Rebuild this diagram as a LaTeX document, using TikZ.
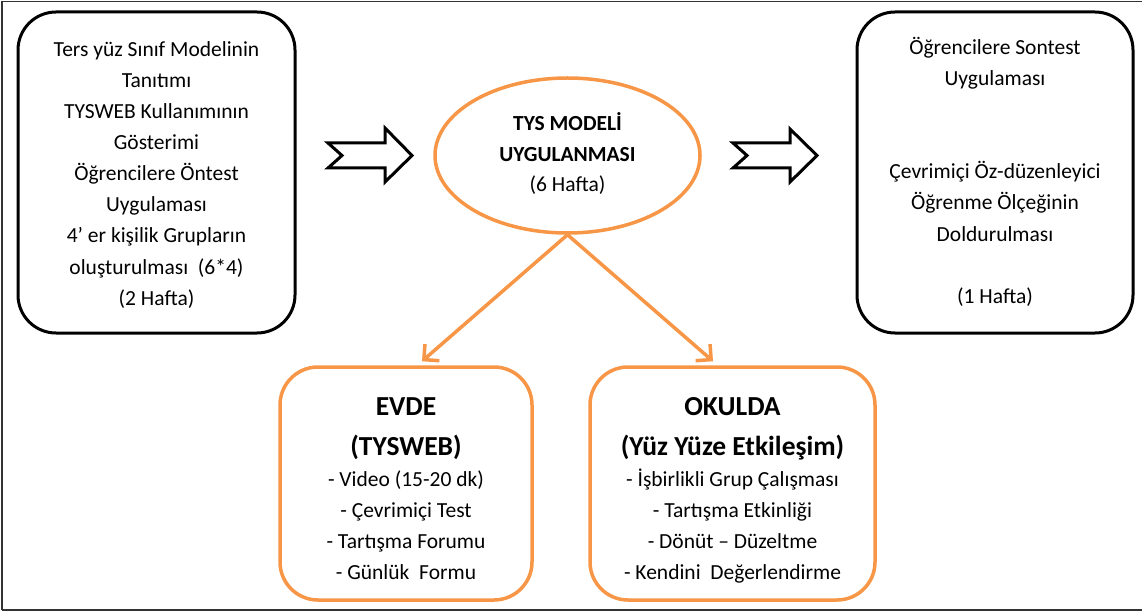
\documentclass[tikz,border=0pt]{standalone}
\usepackage{fontspec}
\setmainfont{Carlito}
\usetikzlibrary{shapes.geometric,arrows.meta}
\definecolor{accentorange}{HTML}{F79646}
\tikzset{
  stagebox/.style={draw=black, line width=3pt, rounded corners=38pt, inner sep=0pt},
  placebox/.style={draw=accentorange, line width=3.5pt, rounded corners=38pt, inner sep=0pt},
  modelell/.style={draw=accentorange, line width=3.5pt, ellipse, inner sep=0pt,
    minimum width=265pt, minimum height=155pt},
  txt/.style={anchor=base, inner sep=0pt, font=\fontsize{21.5}{26}\selectfont},
  txtb/.style={txt, font=\fontsize{21.5}{26}\selectfont\bfseries},
  head/.style={anchor=base, inner sep=0pt, font=\fontsize{27.5}{32}\selectfont\bfseries},
  flow/.style={draw=black, line width=3pt, line join=miter, fill=white},
  branch/.style={draw=accentorange, line width=3.5pt,
    -{Straight Barb[length=11pt, width=22pt, line width=3.5pt]}},
  frame/.style={draw=black!80, line width=1.5pt}
}
\begin{document}
\begin{tikzpicture}[x=1pt, y=-1pt]
\useasboundingbox (0,0) rectangle (1142,612);
% outer frame
\draw[frame] (2,610) -- (2,1.5) -- (1142,1.5);
\draw[frame] (2,610) -- (1142,610);

% preparation stage (left)
\node[stagebox, minimum width=277pt, minimum height=321pt] (prep) at (156.5,172.5) {};
\node[txt] (p1) at (156.5,57)  {Ters yüz Sınıf Modelinin};
\node[txt] (p2) at (156.5,88)  {Tanıtımı};
\node[txt] (p3) at (156.5,119) {TYSWEB Kullanımının};
\node[txt] (p4) at (156.5,150) {Gösterimi};
\node[txt] (p5) at (156.5,181) {Öğrencilere Öntest};
\node[txt] (p6) at (156.5,212) {Uygulaması};
\node[txt] (p7) at (156.5,243) {4’ er kişilik Grupların};
\node[txt] (p8) at (156.5,274) {oluşturulması\ \ (6*4)};
\node[txt] (p9) at (156.5,305) {(2 Hafta)};

% final stage (right)
\node[stagebox, minimum width=276pt, minimum height=321pt] (post) at (995,172.5) {};
\node[txt] (q1) at (995,55)  {Öğrencilere Sontest};
\node[txt] (q2) at (995,86)  {Uygulaması};
\node[txt] (q3) at (995,179) {Çevrimiçi Öz-düzenleyici};
\node[txt] (q4) at (995,210) {Öğrenme Ölçeğinin};
\node[txt] (q5) at (995,241) {Doldurulması};
\node[txt] (q6) at (995,303) {(1 Hafta)};

% model (centre)
\node[modelell] (model) at (567.5,155.5) {};
\node[txtb] (m1) at (567.5,131) {TYS MODELİ};
\node[txtb] (m2) at (567.5,162) {UYGULANMASI};
\node[txt]  (m3) at (567.5,192) {(6 Hafta)};

% block arrows between stages
\draw[flow] (328,143) -- (385,143) -- (385,128) -- (412,155.5) -- (385,182)
  -- (385,168) -- (328,168) -- (342,155.5) -- cycle;
\draw[flow] (733,143) -- (790,143) -- (790,129) -- (817,155.5) -- (790,182)
  -- (790,168) -- (733,168) -- (747,155.5) -- cycle;

% at home
\node[placebox, minimum width=252pt, minimum height=233pt] (home) at (406,483.5) {};
\node[head] (h1) at (406,415) {EVDE};
\node[head] (h2) at (406,455) {(TYSWEB)};
\node[txt]  (h3) at (406,486) {- Video (15-20 dk)};
\node[txt]  (h4) at (406,517) {- Çevrimiçi Test};
\node[txt]  (h5) at (406,548) {- Tartışma Forumu};
\node[txt]  (h6) at (406,579) {- Günlük\ \ Formu};

% at school
\node[placebox, minimum width=285pt, minimum height=233pt] (school) at (732.5,483.5) {};
\node[head] (s1) at (732.5,415) {OKULDA};
\node[head] (s2) at (732.5,455) {(Yüz Yüze Etkileşim)};
\node[txt]  (s3) at (732.5,486) {- İşbirlikli Grup Çalışması};
\node[txt]  (s4) at (732.5,517) {- Tartışma Etkinliği};
\node[txt]  (s5) at (732.5,548) {- Dönüt – Düzeltme};
\node[txt]  (s6) at (732.5,579) {- Kendini\ \ Değerlendirme};

% branches from the model
\draw[branch] (model.south) -- ([xshift=16pt, yshift=4pt]home.north);
\draw[branch] (model.south) -- ([xshift=-19.5pt, yshift=4pt]school.north);
\end{tikzpicture}
\end{document}
